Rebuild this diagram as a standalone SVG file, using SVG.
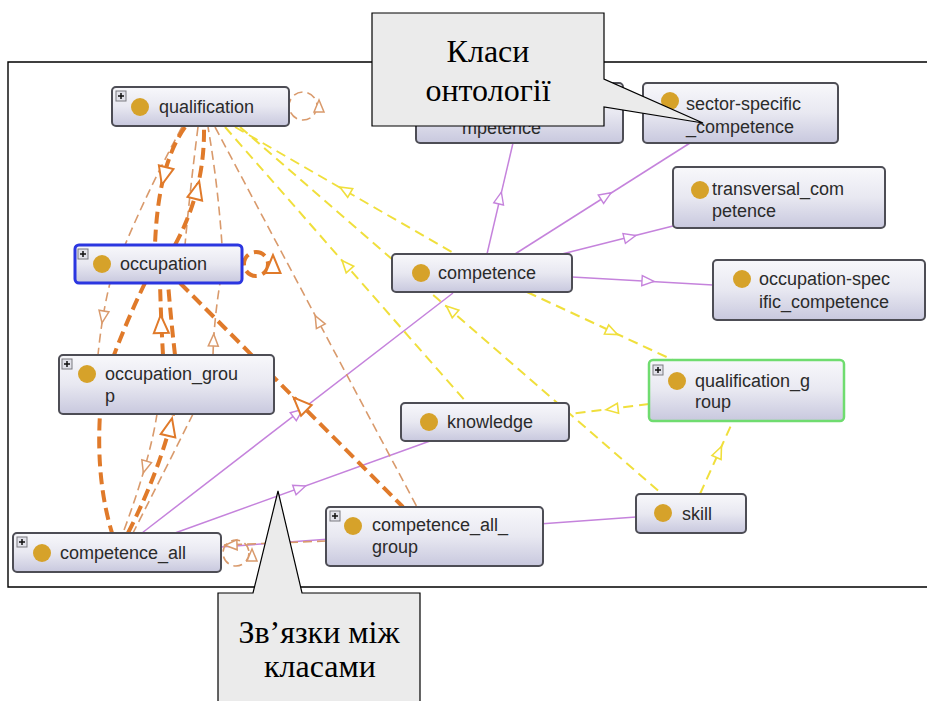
<svg xmlns="http://www.w3.org/2000/svg" xmlns:xlink="http://www.w3.org/1999/xlink" width="927" height="701" viewBox="0 0 927 701">
  <style>
    .frame{stroke:#000;stroke-width:1.4;fill:none}
    .box{fill:url(#ng);stroke:#4d4d55;stroke-width:2}
    .sel{stroke:#2b36e0;stroke-width:3}
    .grn{stroke:#6fdc6f;stroke-width:2.5}
    .dot{fill:#d6a22a}
    .lbl{font-family:"Liberation Sans",Arial,sans-serif;font-size:18px;fill:#2b2b2b}
    .pbox{fill:#e2e2ea;stroke:#7a7a80;stroke-width:1}
    .pl{stroke:#111;stroke-width:1.5}
    .e-p{stroke:#c583dc;stroke-width:1.5;fill:none}
    .e-y{stroke:#f0df3c;stroke-width:2;stroke-dasharray:10 6;fill:none}
    .e-t{stroke:#d99a6c;stroke-width:1.6;stroke-dasharray:9 5;fill:none}
    .e-k{stroke:#e07a2a;stroke-width:4;stroke-dasharray:12 6;fill:none}
    .a-p{fill:#fff;stroke:#c583dc;stroke-width:1.4}
    .a-y{fill:#fff;stroke:#f0df3c;stroke-width:1.6}
    .a-t{fill:#fff;stroke:#d99a6c;stroke-width:1.5}
    .a-k{fill:#fff;stroke:#e07a2a;stroke-width:2}
    .callout{fill:#ebebeb;stroke:#000;stroke-width:1.2}
    .ctext{font-family:"Liberation Serif","Times New Roman",serif;font-size:32px;fill:#000;text-anchor:middle}
  </style>
  <defs>
    <linearGradient id="ng" x1="0" y1="0" x2="0" y2="1">
      <stop offset="0" stop-color="#f8f8fb"/>
      <stop offset="0.5" stop-color="#e8e8f1"/>
      <stop offset="1" stop-color="#c8c8de"/>
    </linearGradient>
    <!-- open triangle arrowheads, pointing along +x -->
    <path id="ah" d="M6,0 L-6,-5 L-6,5 Z"/>
    <path id="ahL" d="M9,0 L-9,-7.5 L-9,7.5 Z"/>
  </defs>

  <rect width="927" height="701" fill="#fff"/>

  <!-- frame -->
  <path class="frame" d="M927,62 L8,62 L8,587 L927,587"/>

  <g id="connectors">
    <!-- subclass links -->
    <path class="e-p" d="M487,254 L513,143"/>
    <use href="#ah" class="a-p" transform="translate(500,198) rotate(-76.8)"/>
    <path class="e-p" d="M515,254 L690,143"/>
    <use href="#ah" class="a-p" transform="translate(606,196) rotate(-32.4)"/>
    <path class="e-p" d="M562,254 L673,226"/>
    <use href="#ah" class="a-p" transform="translate(630,237) rotate(-14.2)"/>
    <path class="e-p" d="M572,277 L713,285"/>
    <use href="#ah" class="a-p" transform="translate(648,281) rotate(3.2)"/>
    <path class="e-p" d="M142,533 L453,293"/>
    <use href="#ah" class="a-p" transform="translate(298,413) rotate(-37.7)"/>
    <path class="e-p" d="M175,533 L430,441"/>
    <use href="#ah" class="a-p" transform="translate(300,488) rotate(-19.8)"/>
    <path class="e-p" d="M221,547 L636,517"/>

    <!-- yellow property links -->
    <path class="e-y" d="M235,127 L455,254"/>
    <use href="#ah" class="a-y" transform="translate(345,190) rotate(210)"/>
    <path class="e-y" d="M225,127 L467,403"/>
    <use href="#ah" class="a-y" transform="translate(346,265) rotate(-131.2)"/>
    <path class="e-y" d="M240,127 L662,494"/>
    <use href="#ah" class="a-y" transform="translate(451,310) rotate(-139)"/>
    <path class="e-y" d="M527,292 L673,360"/>
    <use href="#ah" class="a-y" transform="translate(612,332) rotate(25)"/>
    <path class="e-y" d="M649,404 L569,414"/>
    <use href="#ah" class="a-y" transform="translate(612,409) rotate(173)"/>
    <path class="e-y" d="M700,494 L733,421"/>
    <use href="#ah" class="a-y" transform="translate(719,452) rotate(-65.7)"/>

    <!-- thin orange property links -->
    <path class="e-t" d="M182,127 Q148,190 125,245 L110,283 Q102,315 98,355"/>
    <use href="#ah" class="a-t" transform="translate(103,317) rotate(99.5)"/>
    <path class="e-t" d="M198,127 Q190,190 185,245"/>
    <path class="e-t" d="M213,355 Q214,320 220,283 L222,245 Q218,185 208,127"/>
    <use href="#ah" class="a-t" transform="translate(213.5,340) rotate(-88)"/>
    <path class="e-t" d="M215,127 L417,507"/>
    <use href="#ah" class="a-t" transform="translate(318,321) rotate(-118)"/>
    <path class="e-t" d="M157,414 Q150,460 123,533"/>
    <use href="#ah" class="a-t" transform="translate(145,467) rotate(106)"/>
    <path class="e-t" d="M193,414 Q165,470 133,533"/>
    <path class="e-t" d="M326,541 L224,545"/>
    <use href="#ah" class="a-t" transform="translate(231,545) rotate(178)"/>
    <circle class="e-t" cx="303" cy="106" r="14"/>
    <use href="#ah" class="a-t" transform="translate(319,106) rotate(-90)"/>
    <circle class="e-t" cx="236" cy="553" r="13"/>
    <use href="#ah" class="a-t" transform="translate(252,555) rotate(-90)"/>

    <!-- thick orange property links -->
    <path class="e-k" d="M185,127 Q158,165 155,245 L145,283 Q128,318 114,355 L100,414 Q96,480 112,533"/>
    <use href="#ahL" class="a-k" transform="translate(164,176) rotate(104)"/>
    <path class="e-k" d="M175,245 Q205,190 204,127"/>
    <use href="#ahL" class="a-k" transform="translate(197,190) rotate(-76)"/>
    <path class="e-k" d="M163,355 Q161,320 160,283"/>
    <use href="#ahL" class="a-k" transform="translate(161,324) rotate(-92)"/>
    <path class="e-k" d="M175,355 Q171,320 168,283"/>
    <path class="e-k" d="M128,533 Q160,470 173,414"/>
    <use href="#ahL" class="a-k" transform="translate(170,427) rotate(-77)"/>
    <path class="e-k" d="M180,283 L403,507"/>
    <use href="#ahL" class="a-k" transform="translate(300,404) rotate(-135)"/>
    <circle class="e-k" cx="256" cy="264" r="12"/>
    <use href="#ahL" class="a-k" transform="translate(273,264) rotate(-90)"/>
  </g>

  <g id="node-qualification">
    <rect class="box" x="112" y="87" width="177" height="39" rx="4"/>
    <rect class="pbox" x="116" y="91" width="10" height="10"/>
    <path class="pl" d="M118,96 h6 M121,93 v6"/>
    <circle class="dot" cx="140" cy="107" r="9"/>
    <text class="lbl" x="159" y="113">qualification</text>
  </g>

  <g id="node-occupation">
    <rect class="box sel" x="75" y="245" width="167" height="38" rx="4"/>
    <rect class="pbox" x="78" y="249" width="10" height="10"/>
    <path class="pl" d="M80,254 h6 M83,251 v6"/>
    <circle class="dot" cx="102" cy="264" r="9"/>
    <text class="lbl" x="120" y="270">occupation</text>
  </g>

  <g id="node-occupation_group">
    <rect class="box" x="59" y="355" width="215" height="59" rx="4"/>
    <rect class="pbox" x="62" y="359" width="10" height="10"/>
    <path class="pl" d="M64,364 h6 M67,361 v6"/>
    <circle class="dot" cx="87" cy="374" r="9"/>
    <text class="lbl" x="105" y="380">occupation_grou</text>
    <text class="lbl" x="105" y="402">p</text>
  </g>

  <g id="node-competence_all">
    <rect class="box" x="13" y="533" width="208" height="39" rx="4"/>
    <rect class="pbox" x="17" y="537" width="10" height="10"/>
    <path class="pl" d="M19,542 h6 M22,539 v6"/>
    <circle class="dot" cx="42" cy="553" r="9"/>
    <text class="lbl" x="60" y="559">competence_all</text>
  </g>

  <g id="node-competence_all_group">
    <rect class="box" x="326" y="507" width="217" height="59" rx="4"/>
    <rect class="pbox" x="330" y="511" width="10" height="10"/>
    <path class="pl" d="M332,516 h6 M335,513 v6"/>
    <circle class="dot" cx="353" cy="526" r="9"/>
    <text class="lbl" x="372" y="531">competence_all_</text>
    <text class="lbl" x="372" y="553">group</text>
  </g>

  <g id="node-knowledge">
    <rect class="box" x="401" y="403" width="168" height="38" rx="4"/>
    <circle class="dot" cx="429" cy="422" r="9"/>
    <text class="lbl" x="447" y="428">knowledge</text>
  </g>

  <g id="node-skill">
    <rect class="box" x="636" y="494" width="110" height="39" rx="4"/>
    <circle class="dot" cx="663" cy="513" r="9"/>
    <text class="lbl" x="682" y="520">skill</text>
  </g>

  <g id="node-qualification_group">
    <rect class="box grn" x="649" y="360" width="195" height="61" rx="4"/>
    <rect class="pbox" x="653" y="365" width="10" height="10"/>
    <path class="pl" d="M655,370 h6 M658,367 v6"/>
    <circle class="dot" cx="677" cy="381" r="9"/>
    <text class="lbl" x="695" y="387">qualification_g</text>
    <text class="lbl" x="695" y="408">roup</text>
  </g>

  <g id="node-competence">
    <rect class="box" x="392" y="254" width="180" height="38" rx="4"/>
    <circle class="dot" cx="421" cy="273" r="9"/>
    <text class="lbl" x="438" y="279">competence</text>
  </g>

  <g id="node-occupation-specific_competence">
    <rect class="box" x="713" y="260" width="212" height="60" rx="4"/>
    <circle class="dot" cx="742" cy="279" r="9"/>
    <text class="lbl" x="759" y="285">occupation-spec</text>
    <text class="lbl" x="759" y="308">ific_competence</text>
  </g>

  <g id="node-transversal_competence">
    <rect class="box" x="673" y="167" width="212" height="61" rx="4"/>
    <circle class="dot" cx="700" cy="190" r="9"/>
    <text class="lbl" x="712" y="195">transversal_com</text>
    <text class="lbl" x="712" y="217">petence</text>
  </g>

  <g id="node-sector-specific_competence">
    <rect class="box" x="643" y="83" width="195" height="60" rx="4"/>
    <circle class="dot" cx="670" cy="101" r="9"/>
    <text class="lbl" x="686" y="110">sector-specific</text>
    <text class="lbl" x="686" y="133">_competence</text>
  </g>

  <g id="node-mpetence">
    <rect class="box" x="416" y="83" width="207" height="60" rx="4"/>
    <text class="lbl" x="462" y="134">mpetence</text>
  </g>

  <!-- callouts -->
  <g id="callout-classes">
    <path class="callout" d="M372,13 L604,13 L604,79 L703,123 L604,107 L604,126 L372,126 Z"/>
    <text class="ctext" x="488" y="62">Класи</text>
    <text class="ctext" x="488" y="101">онтології</text>
  </g>

  <g id="callout-relations">
    <path class="callout" d="M218,705 L218,593 L253,593 L278,491 L302,593 L420,593 L420,705 Z"/>
    <text class="ctext" x="319" y="643">Зв’язки між</text>
    <text class="ctext" x="320" y="677">класами</text>
  </g>
</svg>
